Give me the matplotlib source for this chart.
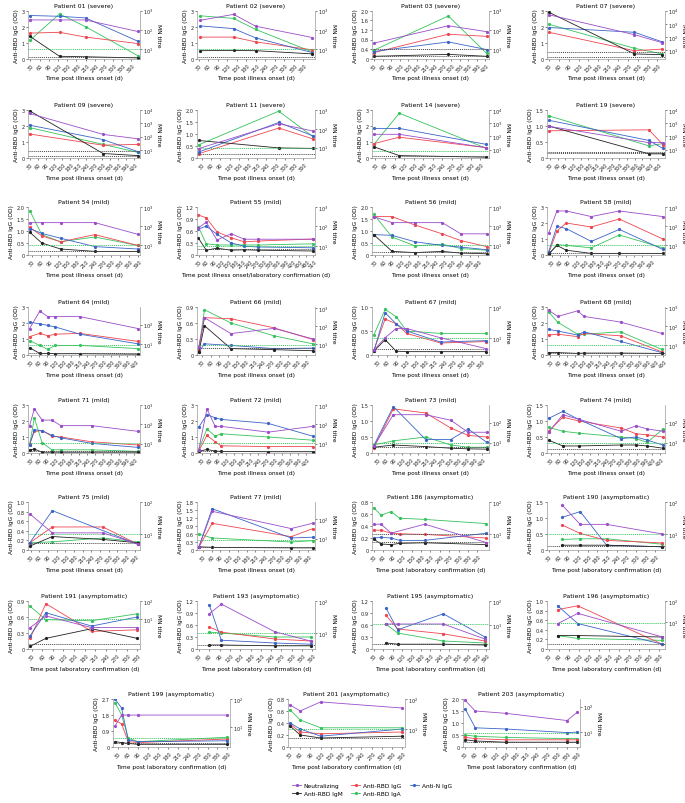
import matplotlib
matplotlib.use("Agg")
import matplotlib.pyplot as plt
import numpy as np
from matplotlib.lines import Line2D

patients = ["01", "02", "03", "07", "09", "11", "14", "19",
            "54", "55", "56", "58", "64", "66", "67", "68", "71", "72", "73", "74", "75", "77",
            "186", "190", "191", "193", "195", "196", "199", "201", "203"]
severity = ["severe"] * 8 + ["mild"] * 14 + ["asymptomatic"] * 9

# sampling days per patient
days = [
    [28, 125, 210, 380], [35, 140, 210, 390], [28, 290, 425], [30, 290, 375],
    [30, 305, 435], [20, 280, 390], [25, 105, 380], [25, 415, 470],
    [22, 63, 127, 244, 390], [27, 60, 105, 165, 220, 280, 510], [26, 90, 170, 265, 330, 420],
    [19, 49, 83, 174, 276, 434], [26, 64, 94, 122, 214, 430], [18, 38, 130, 280, 415],
    [17, 53, 88, 122, 230, 377], [23, 57, 131, 156, 292, 446], [24, 42, 71, 108, 142, 259, 433],
    [18, 49, 80, 102, 278, 445], [15, 89, 210, 304, 369, 439], [21, 76, 137, 300, 357, 400, 460],
    [27, 105, 280, 400], [16, 62, 333, 407],
    [30, 53, 85, 112, 192, 389], [71, 127, 209, 382], [25, 70, 200, 330], [60, 95, 250, 355],
    [69, 106, 252, 385], [56, 116, 369], [20, 40, 60, 90, 360], [30, 60, 120, 360],
    [30, 60, 150, 330, 360],
]
# MN titre (right axis)
neut = [
    [330, 330, 330, 83], [316, 645, 155, 40], [20, 163, 80], [4900, 148, 36],
    [5500, 150, 70], [9, 186, 77], [145, 145, 14], [590, 34, 34],
    [151, 151, 151, 151, 37], [85, 166, 20, 42, 22, 22, 22], [309, 151, 151, 151, 39, 39],
    [42, 620, 620, 316, 620, 316], [63, 510, 263, 263, 263, 63], [7, 295, 39, 76, 20],
    [4, 10, 20, 20, 10, 4.4], [740, 340, 680, 340, 170, 42], [85, 630, 165, 165, 85, 85, 43],
    [4.4, 630, 78, 78, 39, 78], [6.5, 245, 245, 130, 33, 33], [33, 245, 145, 37, 69, 48, 37],
    [43, 11, 11, 5], [3.6, 240, 32, 59],
    [20, 20, 10.5, None, 20, 5.3], [80, 20, 20, 10], [3.4, 15, 3.4, 3.4], [40, 80, 11, 5.6],
    [11, 11, 11, 2.6], [8.5, 26, 2], [11, 27, 27, 27, 27], [63, 40, 80, 50],
    [178, 67, 54, 28, 60],
]
igg = [
    [1.6, 1.65, 1.35, 0.95], [1.35, 1.35, 1.05, 0.55], [0.25, 1.02, 0.93], [1.65, 0.5, 0.6],
    [1.5, 0.8, 0.85], [0.18, 1.25, 0.8], [0.9, 1.3, 0.65], [0.85, 0.88, 0.42],
    [1.15, 0.8, 0.55, 0.85, 0.4], [1.0, 0.93, 0.58, 0.43, 0.33, 0.35, 0.4],
    [1.6, 1.6, 1.25, 0.88, 0.6, 0.35], [0.1, 1.5, 2.0, 1.75, 2.25, 1.0],
    [1.15, 1.35, 1.2, 1.3, 1.35, 0.85], [0.1, 0.7, 0.68, 0.51, 0.29],
    [0.1, 0.75, 0.65, 0.45, 0.25, 0.28], [1.25, 1.3, 1.15, 1.35, 1.2, 0.2],
    [0.55, 1.35, 1.4, 1.05, 1.0, 0.7, 0.5], [0.1, 1.1, 0.7, 0.45, 0.4, 0.4],
    [0.15, 1.38, 1.25, 0.78, 0.55, 0.5], [0.68, 1.12, 1.0, 0.78, 0.6, 0.57, 0.5],
    [0.15, 0.48, 0.48, 0.12], [0.1, 1.0, 0.5, 0.8],
    [0.33, 0.33, 0.28, 0.27, 0.26, 0.2], [0.78, 0.52, 0.3, 0.22], [0.2, 0.85, 0.33, 0.36],
    [0.55, 0.42, 0.25, 0.2], [0.84, 0.5, 0.38, 0.2], [0.82, 0.9, 0.1],
    [1.5, 1.3, 0.3, 0.25, 0.45], [0.38, 0.25, 0.22, 0.25], [0.4, 0.35, 0.3, 0.3, 0.3],
]
n_igg = [
    [2.7, 2.65, 2.55, 1.1], [2.05, 1.88, 1.3, 0.38], [0.3, 0.7, 0.38], [1.95, 1.65, 1.05],
    [2.05, 1.15, 0.4], [0.25, 1.48, 0.93], [1.85, 1.85, 0.85], [1.18, 0.55, 0.3],
    [1.1, 0.9, 0.7, 0.35, 0.25], [0.65, 0.72, 0.52, 0.3, 0.22, 0.2, 0.18],
    [0.85, 0.82, 0.55, 0.4, 0.33, 0.22], [0.2, 1.8, 1.65, 0.85, 1.6, 0.35],
    [2.05, 1.95, 1.85, 1.75, 1.3, 0.7], [0.05, 0.21, 0.18, 0.12, 0.13],
    [0.08, 0.88, 0.65, 0.5, 0.27, 0.3], [1.6, 1.5, 1.25, 1.45, 0.85, 0.15],
    [0.5, 1.45, 1.4, 1.1, 0.95, 0.6, 0.35], [1.6, 2.4, 2.2, 2.1, 1.85, 1.05],
    [0.22, 1.45, 0.42, 0.42, 0.75, 0.33], [1.08, 1.3, 1.05, 0.45, 0.5, 0.4, 0.25],
    [0.15, 0.82, None, 0.12], [0.1, 1.55, 0.45, 0.48],
    [0.2, 0.21, 0.2, 0.16, 0.16, 0.28], [1.02, 1.2, 0.15, 0.1], [0.25, 0.68, 0.43, 0.6],
    [1.1, 0.22, 0.15, 0.12], [1.02, 0.48, 0.88, 0.3], [0.9, 0.53, 0.1],
    [2.7, 2.2, 0.4, 0.3, 0.35], [0.4, 0.3, 0.18, 0.3], [1.6, 0.8, 0.75, 0.6, 0.62],
]
igm = [
    [1.4, 0.15, 0.12, 0.05], [0.5, 0.52, 0.5, 0.3], [0.1, 0.18, 0.1], [2.9, 0.3, 0.25],
    [2.95, 0.28, 0.15], [0.73, 0.42, 0.4], [0.7, 0.15, 0.05], [1.0, 0.13, 0.13],
    [0.95, 0.5, 0.25, 0.15, 0.15], [0.42, 0.12, 0.17, 0.12, 0.13, 0.12, 0.1],
    [0.85, 0.15, 0.1, 0.15, 0.08, 0.05], [0.05, 0.6, 0.3, 0.1, 0.1, 0.1],
    [0.45, 0.1, 0.1, 0.08, 0.08, 0.05], [0.05, 0.55, 0.12, 0.1, 0.08],
    [0.08, 0.32, 0.08, 0.07, 0.07, 0.07], [0.15, 0.15, 0.1, 0.12, 0.12, 0.1],
    [0.2, 0.25, 0.05, 0.05, 0.05, 0.05, 0.05], [0.1, 0.22, 0.12, 0.1, 0.08, 0.08],
    [0.18, 0.25, 0.2, 0.15, 0.13, 0.12], [0.4, 0.22, 0.22, 0.25, 0.25, 0.22, 0.15],
    [0.08, 0.28, 0.22, 0.15], [0.12, 0.1, 0.08, 0.08],
    [0.18, 0.1, 0.09, 0.11, 0.12, 0.09], [0.15, 0.15, 0.15, 0.1], [0.05, 0.2, 0.38, 0.2],
    [0.1, 0.1, 0.08, 0.08], [0.15, 0.12, 0.12, 0.1], [0.28, 0.28, 0.25],
    [0.3, 0.25, 0.2, 0.15, 0.15], [0.35, 0.2, 0.15, 0.18], [0.3, 0.25, 0.2, 0.2, 0.2],
]
iga = [
    [1.15, 2.8, 2.0, 0.2], [2.68, 2.52, 1.83, 0.42], [0.35, 1.78, 0.22], [2.15, 0.65, 0.3],
    [1.9, 0.85, 0.35], [0.55, 1.95, 0.9], [0.85, 2.8, 0.6], [1.32, 0.38, 0.45],
    [1.85, 0.85, 0.55, 0.75, 0.4], [0.7, 0.28, 0.25, 0.25, 0.25, 0.25, 0.28],
    [1.7, 0.75, 0.38, 0.45, 0.27, 0.2], [0.05, 0.65, 0.6, 0.45, 1.25, 0.45],
    [0.9, 0.6, 0.35, 0.6, 0.6, 0.4], [0.1, 0.85, 0.6, 0.36, 0.21],
    [0.42, 0.95, 0.8, 0.5, 0.45, 0.45], [2.7, 2.05, 1.3, 1.3, 1.45, 0.35],
    [0.5, 2.2, 0.65, 0.2, 0.2, 0.2, 0.1], [0.2, 1.5, 1.05, 1.2, 1.0, 0.8],
    [0.25, 0.38, 0.5, 0.25, 0.18, 0.18], [0.8, 0.68, 0.62, 0.5, 0.45, 0.33, 0.75],
    [0.15, 0.17, 0.25, 0.17], [0.6, 0.45, 0.3, 0.35],
    [0.7, 0.58, 0.64, 0.53, 0.51, 0.44], [0.33, 0.35, 0.35, 0.18], [0.8, 0.55, 0.53, 0.66],
    [0.42, 0.4, 0.3, 0.3], [0.62, 0.4, 0.2, 0.15], [0.28, 0.22, 0.18],
    [2.5, 1.8, 0.5, 0.3, 0.55], [0.62, 0.45, 0.32, 0.32], [0.5, 0.45, 0.4, 0.35, 0.35],
]
# cut-off lines (OD)
cut_iga = [0.6, 0.6, None, None, None, 0.4, 0.45, None,
           0.4, 0.22, 0.4, 0.6, 0.6, 0.19, 0.36, 0.6, 0.6, 0.6, 0.32, 0.3, 0.33, 0.38,
           None, 0.5, 0.56, 0.4, 0.62, 0.55, 0.5, 0.3, 0.6]
cut_other = [[0.1], [0.1], [0.4, 0.1], [0.4, 0.1], [0.45, 0.1], [0.15], [0.1], [0.2, 0.15],
             [0.15], [0.15], [0.12], [0.1], [0.1], [0.14], [0.12], [0.1], [0.1], [0.1],
             [0.18], [0.12], [0.15], [0.12],
             [0.27, 0.13], [0.12], [0.1], [0.1], [0.12], [0.1], [0.25], [0.15], [0.2]]

# axis settings per panel
y_max = [3, 3, 2.0, 3, 3, 2.0, 3, 1.5, 2.0, 1.2, 2.0, 3, 3, 0.9, 1.0, 3, 3, 3, 1.5, 1.5,
         1.0, 1.8, 0.8, 1.5, 0.9, 1.2, 1.2, 1.0, 2.7, 0.8, 2.0]
y_step = [1, 1, 0.4, 1, 1, 0.5, 1, 0.5, 0.5, 0.3, 0.5, 1, 1, 0.3, 0.5, 1, 1, 1, 0.5, 0.5,
          0.2, 0.3, 0.2, 0.5, 0.3, 0.3, 0.3, 0.2, 0.9, 0.2, 0.5]
mn_range = [(0.5, 3), (0.5, 3), (0.49, 3), (0.34, 4), (0.41, 4), (0.45, 3), (0.37, 4), (0.37, 4),
            (0.48, 3), (0.53, 3), (0.48, 3), (0.49, 3), (0.42, 2.92), (0.41, 3.06), (0.44, 2),
            (0.46, 3.04), (0.51, 3), (0.51, 3), (0.49, 2.87), (0.49, 2.87), (0.51, 2), (0.42, 2.85),
            (0.49, 2), (0.5, 2), (-0.65, 2), (0.5, 2), (0, 2), (-0.27, 2), (0.3, 2), (0.4, 2),
            (0.4, 2.3)]
x_last = [360, 360, 420, 360, 420, 360, 360, 450, 390, 510, 390, 390, 420, 390, 360, 450,
          420, 420, 420, 450, 390, 390, 360, 360, 330, 360, 390, 360, 360, 360, 360]
xlab = {"onset": "Time post illness onset (d)",
        "both": "Time post illness onset/laboratory confirmation (d)",
        "lab": "Time post laboratory confirmation (d)"}
xlab_kind = ["onset"] * 9 + ["both"] + ["onset"] * 12 + ["lab"] * 9

c_neut = "#9b4dca"
c_igg = "#f0454f"
c_nigg = "#3a64c8"
c_igm = "#222222"
c_iga = "#35c35c"
spine_c = "#9a9a9a"

W, H = 685, 804
fig = plt.figure(figsize=(W / 100, H / 100), dpi=100)

col_left = [28, 197, 372, 547]
col_w = [112, 118, 117, 118]
row_top = [11.7, 111, 208, 308, 406, 503, 602, 700]
last_left = [113, 288, 463]
ax_h = 48


def arr(v):
    return np.array([np.nan if a is None else a for a in v], dtype=float)


def fmt(v, step):
    if v == 0:
        return "0"
    if float(step).is_integer():
        return str(int(round(v)))
    return "%.1f" % v


for i, p in enumerate(patients):
    if i < 28:
        r, c = divmod(i, 4)
        left, w = col_left[c], col_w[c]
    else:
        r = 7
        left, w = last_left[i - 28], 117
    top = row_top[r]
    ax = fig.add_axes([left / W, 1 - (top + ax_h) / H, w / W, ax_h / H])
    ax2 = ax.twinx()

    d = np.array(days[i], dtype=float)
    for vals, col in [(iga[i], c_iga), (igg[i], c_igg), (n_igg[i], c_nigg), (igm[i], c_igm)]:
        v = arr(vals)
        m = ~np.isnan(v)
        ax.plot(d[m], v[m], color=col, lw=0.6, marker="o", ms=1.3, mec=col)
    v = arr(neut[i])
    m = ~np.isnan(v)
    ax2.plot(d[m], v[m], color=c_neut, lw=0.6, marker="o", ms=1.3, mec=c_neut)

    if cut_iga[i] is not None:
        ax.axhline(cut_iga[i], color=c_iga, ls=(0, (1, 1)), lw=0.7)
    for cv in cut_other[i]:
        ax.axhline(cv, color="#444444", ls=(0, (1, 1)), lw=0.7)

    ymax, step = y_max[i], y_step[i]
    ax.set_ylim(0, ymax)
    yt = np.arange(0, ymax + 1e-6, step)
    ax.set_yticks(yt)
    ax.set_yticklabels([fmt(t, step) for t in yt])

    xt = np.arange(30, x_last[i] + 1, 30)
    ax.set_xticks(xt)
    ax.set_xticklabels([str(t) for t in xt], rotation=45)
    ax.set_xlim(min(d.min(), 30) - 6, max(d.max(), x_last[i]) + 8)

    r0, r1 = mn_range[i]
    ax2.set_yscale("log")
    ax2.set_ylim(10 ** r0, 10 ** r1)
    ks = list(range(max(1, int(np.ceil(r0 - 0.02))), int(np.floor(r1 + 0.02)) + 1))
    ax2.set_yticks([10.0 ** k for k in ks])
    ax2.set_yticklabels([r"$10^{%d}$" % k for k in ks])
    ax2.yaxis.set_minor_locator(matplotlib.ticker.NullLocator())

    for a in (ax, ax2):
        a.spines["top"].set_visible(False)
        for s in a.spines.values():
            s.set_color(spine_c)
            s.set_linewidth(0.5)
        a.tick_params(length=1.5, width=0.4, pad=1, labelsize=3.6, colors="#222222")
    ax2.spines["left"].set_visible(False)
    ax2.spines["bottom"].set_visible(False)
    ax.spines["right"].set_visible(False)

    ax.set_title("Patient %s (%s)" % (p, severity[i]), fontsize=4.4, pad=3)
    ax.set_xlabel(xlab[xlab_kind[i]], fontsize=4.2, labelpad=2)
    ax.set_ylabel("Anti-RBD IgG (OD)", fontsize=4.2, labelpad=1.5)
    ax2.set_ylabel("MN titre", fontsize=4.2, rotation=270, labelpad=5)

handles = [
    Line2D([], [], color=c_neut, lw=0.6, marker="o", ms=1.3),
    Line2D([], [], color=c_igm, lw=0.6, marker="o", ms=1.3),
    Line2D([], [], color=c_igg, lw=0.6, marker="o", ms=1.3),
    Line2D([], [], color=c_iga, lw=0.6, marker="o", ms=1.3),
    Line2D([], [], color=c_nigg, lw=0.6, marker="o", ms=1.3),
]
labels = ["Neutralizing", "Anti-RBD IgM", "Anti-RBD IgG", "Anti-RBD IgA", "Anti-N IgG"]
fig.legend(handles, labels, ncol=3, loc="center", bbox_to_anchor=(372 / W, 1 - 790 / H),
           fontsize=4.2, frameon=False, handlelength=1.5, columnspacing=1.5,
           handletextpad=0.5, labelspacing=0.5)

fig.savefig("out.png", dpi=100)
